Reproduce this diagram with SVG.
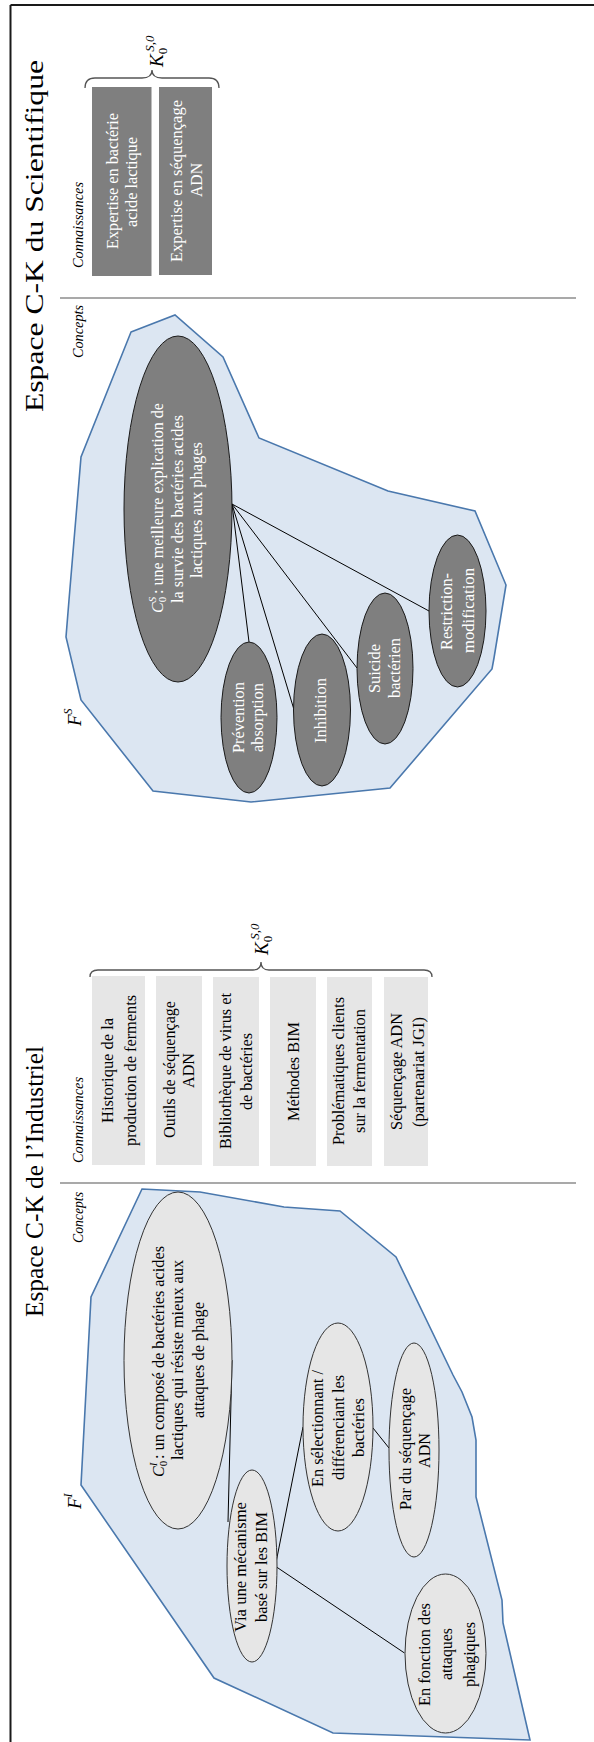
<svg xmlns="http://www.w3.org/2000/svg" width="594" height="1742" viewBox="0 0 594 1742">
<style>
text{font-family:"Liberation Serif","Times New Roman",serif;}
.t{font-size:16px;text-anchor:middle;}
.w{fill:#ffffff;}
.k{fill:#000000;}
.lab{font-size:14px;font-style:italic;text-anchor:middle;fill:#000;}
.title{font-size:26px;text-anchor:middle;fill:#000;}
.region{fill:#dce6f2;stroke:#4a78ad;stroke-width:1.6;}
.dark{fill:#7f7f7f;stroke:#1a1a1a;stroke-width:1;}
.light{fill:#e6e6e6;stroke:#333;stroke-width:1;}
.dbox{fill:#7f7f7f;}
.lbox{fill:#e6e6e6;}
.conn{stroke:#000;stroke-width:1;fill:none;}
.sep{stroke:#8c8c8c;stroke-width:1.5;}
.brace{stroke:#555;stroke-width:1.3;fill:none;}
</style>
<g id="frame">
<line x1="10.5" y1="5" x2="594" y2="5" stroke="#1a1a1a" stroke-width="2"/>
<line x1="10.5" y1="5" x2="10.5" y2="1742" stroke="#1a1a1a" stroke-width="2"/>
<line class="sep" x1="60" y1="298" x2="576" y2="298"/>
<line class="sep" x1="60" y1="1183" x2="576" y2="1183"/>
</g>
<g id="titles">
<text class="title" transform="translate(43,236) rotate(-90)" textLength="352" lengthAdjust="spacingAndGlyphs">Espace C-K du Scientifique</text>
<text class="title" transform="translate(43,1181.5) rotate(-90)" textLength="271" lengthAdjust="spacingAndGlyphs">Espace C-K de l’Industriel</text>
<text class="lab" transform="translate(83,225) rotate(-90)" textLength="86" lengthAdjust="spacingAndGlyphs">Connaissances</text>
<text class="lab" transform="translate(83,331.5) rotate(-90)" textLength="53" lengthAdjust="spacingAndGlyphs">Concepts</text>
<text class="lab" transform="translate(83,1120) rotate(-90)" textLength="86" lengthAdjust="spacingAndGlyphs">Connaissances</text>
<text class="lab" transform="translate(83,1217.5) rotate(-90)" textLength="51" lengthAdjust="spacingAndGlyphs">Concepts</text>
</g>
<g id="regions">
<polygon id="FS" class="region" points="131,332 175,315 223,357 259,438 388,491 475,511 506,585 494,658 492,669 390,788 251,802 153,791 81,700 66,637 69,600 81,457"/>
<polygon id="FI" class="region" points="142,1189 200,1192 284,1207 340,1211 396,1257 453,1375 462,1392 472,1417 476,1440 476,1497 502,1600 503,1623 530,1740 333,1733 214,1678 81,1485 91,1297"/>
<text transform="translate(81,726) rotate(-90)" font-size="19" font-style="italic"><tspan>F</tspan><tspan font-size="12" dy="-9">S</tspan></text>
<text transform="translate(81,1509) rotate(-90)" font-size="19" font-style="italic"><tspan>F</tspan><tspan font-size="12" dy="-9">I</tspan></text>
</g>
<g id="connectors">
<line class="conn" x1="232" y1="504" x2="249" y2="642"/>
<line class="conn" x1="232" y1="504" x2="293.5" y2="708"/>
<line class="conn" x1="232" y1="504" x2="357" y2="668"/>
<line class="conn" x1="232" y1="504" x2="429" y2="611"/>
<line class="conn" x1="232" y1="1360" x2="228" y2="1522"/>
<line class="conn" x1="276.5" y1="1560" x2="303" y2="1427"/>
<line class="conn" x1="276.5" y1="1567" x2="404.5" y2="1653"/>
<line class="conn" x1="373" y1="1428" x2="389" y2="1448"/>
</g>
<g id="K-sci">
<path class="brace" d="M85,88 Q85,78 95,78 L142,78 Q152,78 152,70 Q152,78 162,78 L209,78 Q219,78 219,88"/>
<text transform="translate(163,67) rotate(-90)" font-size="19" font-style="italic"><tspan>K</tspan><tspan font-size="13" dy="4" font-style="normal">0</tspan><tspan font-size="13" dx="-4" dy="-13" font-style="italic">S,0</tspan></text>
</g>
<g id="K-ind">
<path class="brace" d="M90,977 Q90,970 98,970 L253,970 Q261,970 261,962 Q261,970 269,970 L424,970 Q432,970 432,977"/>
<text transform="translate(268,955) rotate(-90)" font-size="19" font-style="italic"><tspan>K</tspan><tspan font-size="13" dy="4" font-style="normal">0</tspan><tspan font-size="13" dx="-4" dy="-13" font-style="italic">S,0</tspan></text>
</g>
<g id="sci-k1">
<rect class="dbox" x="92" y="87" width="59.5" height="189"/>
<text class="t w" transform="translate(118,181) rotate(-90)" textLength="136" lengthAdjust="spacingAndGlyphs">Expertise en bactérie</text>
<text class="t w" transform="translate(137,182) rotate(-90)" textLength="90" lengthAdjust="spacingAndGlyphs">acide lactique</text>
</g>
<g id="sci-k2">
<rect class="dbox" x="159" y="87" width="53" height="188"/>
<text class="t w" transform="translate(182,181) rotate(-90)" textLength="162" lengthAdjust="spacingAndGlyphs">Expertise en séquençage</text>
<text class="t w" transform="translate(202,180) rotate(-90)" textLength="34" lengthAdjust="spacingAndGlyphs">ADN</text>
</g>
<g id="sci-c0">
<ellipse class="dark" cx="178" cy="509" rx="54" ry="173"/>
<text class="w" transform="translate(163,613) rotate(-90)" font-size="16"><tspan font-style="italic">C</tspan><tspan font-size="11" dy="3">0</tspan><tspan font-size="11" dx="-5.5" dy="-10" font-style="italic">S</tspan></text>
<text class="w" transform="translate(163,594) rotate(-90)" font-size="16" textLength="191" lengthAdjust="spacingAndGlyphs">: une meilleure explication de</text>
<text class="t w" transform="translate(183,509) rotate(-90)" textLength="188" lengthAdjust="spacingAndGlyphs">la survie des bactéries acides</text>
<text class="t w" transform="translate(201.5,510) rotate(-90)" textLength="136" lengthAdjust="spacingAndGlyphs">lactiques aux phages</text>
</g>
<g id="sci-prevention">
<ellipse class="dark" cx="249" cy="717.5" rx="28" ry="75.5"/>
<text class="t w" transform="translate(243.5,717.5) rotate(-90)" textLength="71" lengthAdjust="spacingAndGlyphs">Prévention</text>
<text class="t w" transform="translate(263,717.5) rotate(-90)" textLength="69" lengthAdjust="spacingAndGlyphs">absorption</text>
</g>
<g id="sci-inhibition">
<ellipse class="dark" cx="322" cy="710" rx="28.5" ry="76"/>
<text class="t w" transform="translate(326,710.5) rotate(-90)" textLength="65" lengthAdjust="spacingAndGlyphs">Inhibition</text>
</g>
<g id="sci-suicide">
<ellipse class="dark" cx="385" cy="668.5" rx="28" ry="75.5"/>
<text class="t w" transform="translate(380,668.5) rotate(-90)" textLength="49" lengthAdjust="spacingAndGlyphs">Suicide</text>
<text class="t w" transform="translate(399.5,668) rotate(-90)" textLength="60" lengthAdjust="spacingAndGlyphs">bactérien</text>
</g>
<g id="sci-restriction">
<ellipse class="dark" cx="457.5" cy="611" rx="28.5" ry="76"/>
<text class="t w" transform="translate(452,611.5) rotate(-90)" textLength="77" lengthAdjust="spacingAndGlyphs">Restriction-</text>
<text class="t w" transform="translate(473.5,610.5) rotate(-90)" textLength="85" lengthAdjust="spacingAndGlyphs">modification</text>
</g>
<g id="ind-k1">
<rect class="lbox" x="92" y="976" width="53" height="189"/>
<text class="t k" transform="translate(113,1070.5) rotate(-90)" textLength="105" lengthAdjust="spacingAndGlyphs">Historique de la</text>
<text class="t k" transform="translate(135.5,1070.5) rotate(-90)" textLength="151" lengthAdjust="spacingAndGlyphs">production de ferments</text>
</g>
<g id="ind-k2">
<rect class="lbox" x="156" y="976" width="46" height="189"/>
<text class="t k" transform="translate(174.5,1069.5) rotate(-90)" textLength="137" lengthAdjust="spacingAndGlyphs">Outils de séquençage</text>
<text class="t k" transform="translate(194,1070.5) rotate(-90)" textLength="35" lengthAdjust="spacingAndGlyphs">ADN</text>
</g>
<g id="ind-k3">
<rect class="lbox" x="213" y="977" width="46" height="189"/>
<text class="t k" transform="translate(231,1071) rotate(-90)" textLength="156" lengthAdjust="spacingAndGlyphs">Bibliothèque de virus et</text>
<text class="t k" transform="translate(251.5,1071.5) rotate(-90)" textLength="77" lengthAdjust="spacingAndGlyphs">de bactéries</text>
</g>
<g id="ind-k4">
<rect class="lbox" x="270" y="977" width="46" height="189"/>
<text class="t k" transform="translate(298.5,1071.5) rotate(-90)" textLength="99" lengthAdjust="spacingAndGlyphs">Méthodes BIM</text>
</g>
<g id="ind-k5">
<rect class="lbox" x="327" y="977" width="45" height="189"/>
<text class="t k" transform="translate(344,1071) rotate(-90)" textLength="148" lengthAdjust="spacingAndGlyphs">Problématiques clients</text>
<text class="t k" transform="translate(365,1071) rotate(-90)" textLength="124" lengthAdjust="spacingAndGlyphs">sur la fermentation</text>
</g>
<g id="ind-k6">
<rect class="lbox" x="384" y="977" width="44" height="189"/>
<text class="t k" transform="translate(401.5,1071.5) rotate(-90)" textLength="117" lengthAdjust="spacingAndGlyphs">Séquençage ADN</text>
<text class="t k" transform="translate(423.5,1072) rotate(-90)" textLength="110" lengthAdjust="spacingAndGlyphs">(partenariat JGI)</text>
</g>
<g id="ind-c0">
<ellipse class="light" cx="178" cy="1360.5" rx="54" ry="168.5"/>
<text class="k" transform="translate(164,1477) rotate(-90)" font-size="16"><tspan font-style="italic">C</tspan><tspan font-size="11" dy="3">0</tspan><tspan font-size="11" dx="-5.5" dy="-10" font-style="italic">I</tspan></text>
<text class="k" transform="translate(164,1459) rotate(-90)" font-size="16" textLength="213" lengthAdjust="spacingAndGlyphs">: un composé de bactéries acides</text>
<text class="t k" transform="translate(183,1360) rotate(-90)" textLength="200" lengthAdjust="spacingAndGlyphs">lactiques qui résiste mieux aux</text>
<text class="t k" transform="translate(203.5,1360) rotate(-90)" textLength="116" lengthAdjust="spacingAndGlyphs">attaques de phage</text>
</g>
<g id="ind-via">
<ellipse class="light" cx="252" cy="1566" rx="25" ry="96"/>
<text class="t k" transform="translate(245.5,1567) rotate(-90)" textLength="130" lengthAdjust="spacingAndGlyphs">Via une mécanisme</text>
<text class="t k" transform="translate(266.5,1567) rotate(-90)" textLength="110" lengthAdjust="spacingAndGlyphs">basé sur les BIM</text>
</g>
<g id="ind-selection">
<ellipse class="light" cx="338" cy="1427" rx="35" ry="104"/>
<text class="t k" transform="translate(323,1428.5) rotate(-90)" textLength="117" lengthAdjust="spacingAndGlyphs">En sélectionnant /</text>
<text class="t k" transform="translate(344,1427.5) rotate(-90)" textLength="105" lengthAdjust="spacingAndGlyphs">différenciant les</text>
<text class="t k" transform="translate(364,1427.5) rotate(-90)" textLength="59" lengthAdjust="spacingAndGlyphs">bactéries</text>
</g>
<g id="ind-sequencage">
<ellipse class="light" cx="414" cy="1450" rx="25" ry="107"/>
<text class="t k" transform="translate(410.5,1449) rotate(-90)" textLength="122" lengthAdjust="spacingAndGlyphs">Par du séquençage</text>
<text class="t k" transform="translate(429.5,1450.5) rotate(-90)" textLength="35" lengthAdjust="spacingAndGlyphs">ADN</text>
</g>
<g id="ind-fonction">
<ellipse class="light" cx="445.5" cy="1653.5" rx="40.5" ry="79.5"/>
<text class="t k" transform="translate(430,1654.5) rotate(-90)" textLength="103" lengthAdjust="spacingAndGlyphs">En fonction des</text>
<text class="t k" transform="translate(451.5,1654) rotate(-90)" textLength="52" lengthAdjust="spacingAndGlyphs">attaques</text>
<text class="t k" transform="translate(475,1654.5) rotate(-90)" textLength="65" lengthAdjust="spacingAndGlyphs">phagiques</text>
</g>
</svg>
